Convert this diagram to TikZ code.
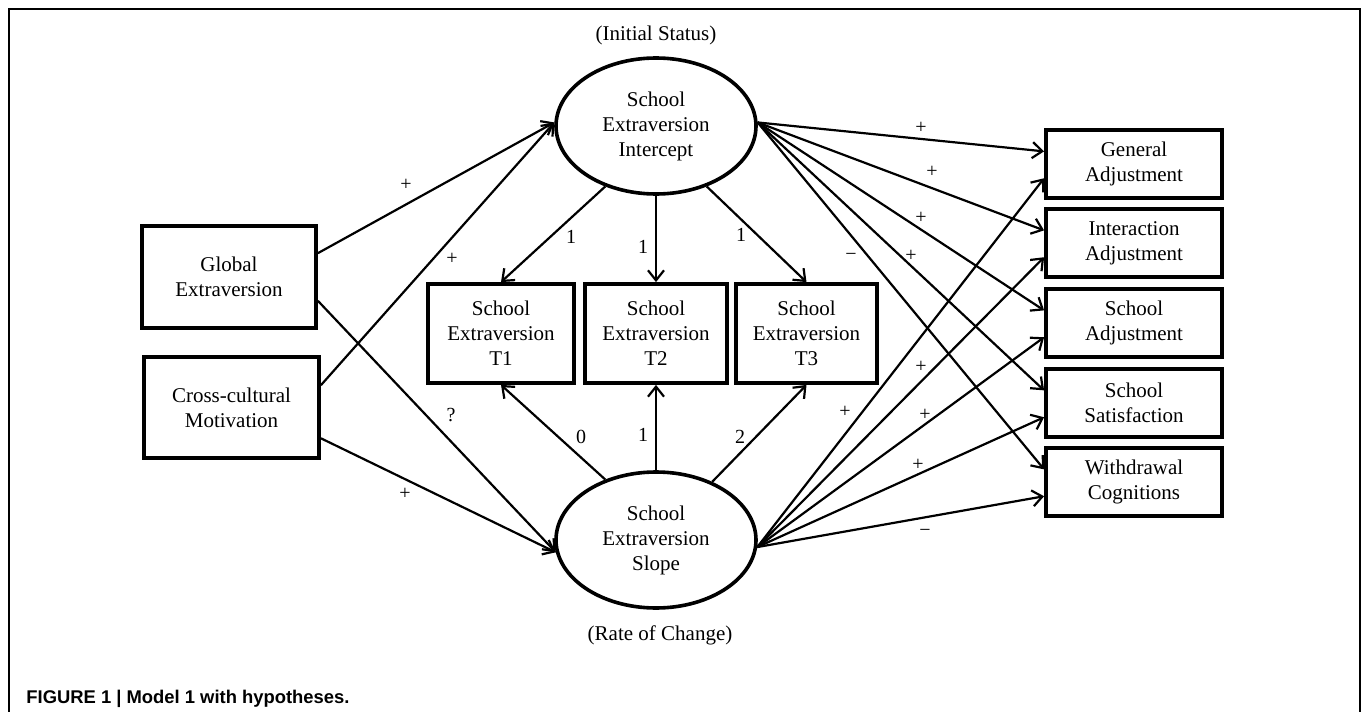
\documentclass[tikz,border=0pt]{standalone}
\usepackage{fontspec}
\setmainfont{Liberation Serif}
\newfontfamily\capfont{Liberation Sans}
\usetikzlibrary{arrows.meta}
\usetikzlibrary{shapes.geometric}

\begin{document}
\begin{tikzpicture}[x=0.5pt,y=-0.5pt,
  obs/.style={draw, line width=1.9pt, align=center, inner sep=0pt,
    font=\fontsize{10.5}{12.5}\selectfont},
  lat/.style={ellipse, draw, line width=1.8pt, align=center, inner sep=0pt,
    minimum width=100pt, minimum height=68pt, font=\fontsize{10.5}{12.5}\selectfont},
  note/.style={inner sep=0pt, font=\fontsize{10.5}{12.5}\selectfont},
  lab/.style={inner sep=1pt, font=\fontsize{10}{12}\selectfont},
  arr/.style={line width=1.1pt, -{Straight Barb[length=5pt,width=8pt,line width=1.1pt]}}]
\useasboundingbox (0,0) rectangle (1362,712);
\draw[line width=1.2pt] (9,712) -- (9,9) -- (1360,9) -- (1360,712);
\node[anchor=base west, inner sep=0pt, font=\capfont\bfseries\fontsize{9.2}{11}\selectfont] (cap) at (26,703) {FIGURE 1 | Model 1 with hypotheses.};
% predictors
\node[obs, minimum width=87pt, minimum height=51pt] (GE) at (229,277) {Global\\Extraversion};
\node[obs, minimum width=87.5pt, minimum height=50.5pt] (CM) at (231.5,407.5) {Cross-cultural\\Motivation};
% growth factors
\node[note] (IS) at (656,35) {(Initial Status)};
\node[lat] (I) at (656,126) {School\\Extraversion\\Intercept};
\node[lat] (S) at (656,540) {School\\Extraversion\\Slope};
\node[note] (RC) at (660,635) {(Rate of Change)};
\node[obs, minimum width=73pt, minimum height=49.5pt] (T1) at (501,333.5) {School\\Extraversion\\T1};
\node[obs, minimum width=71pt, minimum height=49.5pt] (T2) at (656,333.5) {School\\Extraversion\\T2};
\node[obs, minimum width=70.5pt, minimum height=49.5pt] (T3) at (806.5,333.5) {School\\Extraversion\\T3};
% outcomes
\node[obs, minimum width=88pt, minimum height=34pt] (GA) at (1134,164) {General\\Adjustment};
\node[obs, minimum width=88pt, minimum height=34pt] (IA) at (1134,243) {Interaction\\Adjustment};
\node[obs, minimum width=88pt, minimum height=34pt] (SA) at (1134,323) {School\\Adjustment};
\node[obs, minimum width=88pt, minimum height=34pt] (SS) at (1134,403) {School\\Satisfaction};
\node[obs, minimum width=88pt, minimum height=34pt] (WC) at (1134,482) {Withdrawal\\Cognitions};
% predictor paths
\draw[arr] (GE.15) -- (I.178);
\draw[arr] (CM.14) -- (I.178);
\draw[arr] (GE.345) -- (S.187);
\draw[arr] (CM.341) -- (S.187);
\node[lab] (p1) at (406,185) {+};
\node[lab] (p2) at (452,259) {+};
\node[lab] (p3) at (451,415) {?};
\node[lab] (p4) at (405,494) {+};
% loadings
\draw[arr] (I.230) -- (T1.north);
\draw[arr] (I.south) -- (T2.north);
\draw[arr] (I.310) -- (T3.north);
\draw[arr] (S.130) -- (T1.south);
\draw[arr] (S.north) -- (T2.south);
\draw[arr] (S.46) -- (T3.south);
\node[lab] (i1) at (571,237) {1};
\node[lab] (i2) at (643,247) {1};
\node[lab] (i3) at (741,235) {1};
\node[lab] (s1) at (581,437) {0};
\node[lab] (s2) at (643,435) {1};
\node[lab] (s3) at (740,437) {2};
% outcome paths
\draw[arr] (I.2) -- (GA.172);
\draw[arr] (I.2) -- (IA.172);
\draw[arr] (I.2) -- (SA.172);
\draw[arr] (I.2) -- (SS.172);
\draw[arr] (I.2) -- (WC.172);
\draw[arr] (S.356) -- (GA.189);
\draw[arr] (S.356) -- (IA.189);
\draw[arr] (S.356) -- (SA.189);
\draw[arr] (S.356) -- (SS.189);
\draw[arr] (S.356) -- (WC.189);
\node[lab] (a1) at (921,128) {+};
\node[lab] (a2) at (932,172) {+};
\node[lab] (a3) at (921,218) {+};
\node[lab] (a4) at (911,256) {+};
\node[lab] (a5) at (851,257) {−};
\node[lab] (b1) at (921,367) {+};
\node[lab] (b2) at (845,412) {+};
\node[lab] (b3) at (925,415) {+};
\node[lab] (b4) at (918,465) {+};
\node[lab] (b5) at (925,533) {−};
\end{tikzpicture}
\end{document}
